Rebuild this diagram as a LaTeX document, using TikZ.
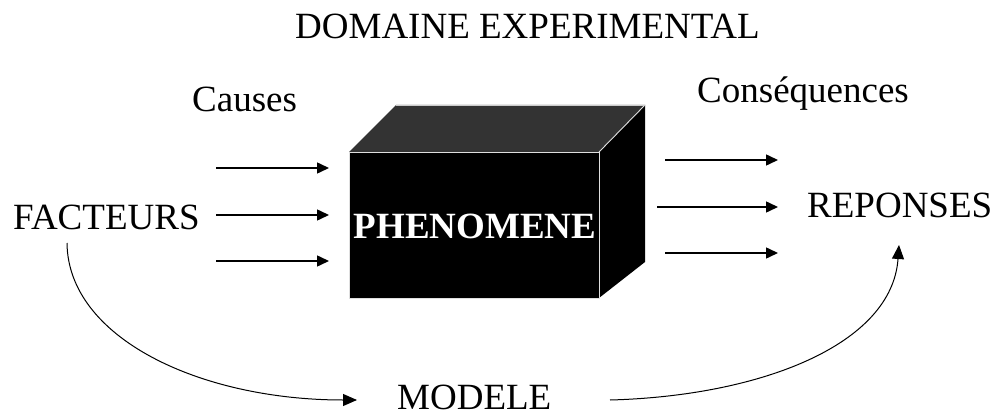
\documentclass[tikz,border=0pt]{standalone}
\usepackage{fontspec}
\setmainfont{Liberation Serif}
\usetikzlibrary{arrows.meta}
\begin{document}
\begin{tikzpicture}[x=1pt,y=-1pt,
  lbl/.style={anchor=base west,inner sep=0pt,font=\fontsize{37}{40}\selectfont},
  straightarr/.style={line width=1.5pt,-{Triangle[length=12pt,width=11pt]}},
  curvearr/.style={line width=1pt,-{Triangle[length=14pt,width=12pt]}},
  edgeline/.style={draw=gray!25,line width=0.9pt}]
\useasboundingbox (0,0) rectangle (996,417);
% texts
\node[lbl] (title) at (295,39) {DOMAINE EXPERIMENTAL};
\node[lbl] (causes) at (192,112) {Causes};
\node[lbl] (cons) at (697,103) {Conséquences};
\node[lbl] (fac) at (13,229) {FACTEURS};
\node[lbl] (rep) at (807,217) {REPONSES};
\node[lbl] (mod) at (397,409) {MODELE};
% box
\coordinate (ftl) at (349,152);
\coordinate (ftr) at (599,152);
\coordinate (fbr) at (599,298);
\coordinate (fbl) at (349,298);
\coordinate (btl) at (396,105);
\coordinate (btr) at (645,105);
\coordinate (bbr) at (645,262);
\fill[black!80] (ftl) -- (btl) -- (btr) -- (ftr) -- cycle;
\fill[black] (ftr) -- (btr) -- (bbr) -- (fbr) -- cycle;
\fill[black] (ftl) rectangle (fbr);
\draw[edgeline] (ftl) -- (ftr) -- (fbr) -- (fbl) -- cycle;
\draw[edgeline] (ftr) -- (btr);
\draw[draw=gray!40,line width=0.6pt] (btl) -- (btr);
\node[anchor=base,inner sep=0pt,text=white,font=\fontsize{37}{40}\selectfont\bfseries] (phen) at (475,238) {PHENOMENE};
% input arrows
\coordinate (i1s) at (216,168); \coordinate (i1e) at (329,168);
\coordinate (i2s) at (216,215); \coordinate (i2e) at (329,215);
\coordinate (i3s) at (216,261); \coordinate (i3e) at (329,261);
\draw[straightarr] (i1s) -- (i1e);
\draw[straightarr] (i2s) -- (i2e);
\draw[straightarr] (i3s) -- (i3e);
% output arrows
\coordinate (o1s) at (665,160); \coordinate (o1e) at (778,160);
\coordinate (o2s) at (657,207); \coordinate (o2e) at (778,207);
\coordinate (o3s) at (665,253); \coordinate (o3e) at (778,253);
\draw[straightarr] (o1s) -- (o1e);
\draw[straightarr] (o2s) -- (o2e);
\draw[straightarr] (o3s) -- (o3e);
% curves
\coordinate (c1s) at (67,243);
\coordinate (c1e) at (357,400);
\coordinate (c2s) at (610,400);
\coordinate (c2e) at (899,245);
\draw[curvearr] (c1s) .. controls (68,338) and (200,400) .. (c1e);
\draw[curvearr] (c2s) .. controls (760,396) and (892,345) .. (c2e);
\end{tikzpicture}
\end{document}
